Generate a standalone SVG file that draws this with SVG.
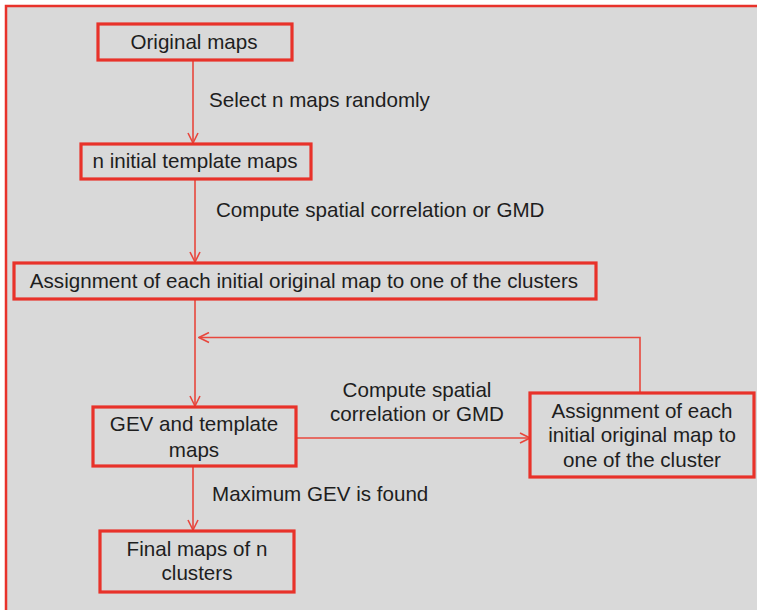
<svg xmlns="http://www.w3.org/2000/svg" width="757" height="610" viewBox="0 0 757 610">
<defs>
<style>
.frame{fill:#d9d9d9;stroke:#e8322a;stroke-width:2.5}
.box{fill:#d9d9d9;stroke:#e8322a;stroke-width:3.2}
.edge{fill:none;stroke:#e8473d;stroke-width:1.6}
text{font-family:"Liberation Sans",Arial,sans-serif;font-size:20.6px;fill:#1e1e1e}
.c{text-anchor:middle}
</style>
<marker id="ah" viewBox="0 0 12 12" refX="11" refY="6" markerWidth="12" markerHeight="12" markerUnits="userSpaceOnUse" orient="auto">
<path d="M1,1 L11,6 L1,11" fill="none" stroke="#e8473d" stroke-width="1.6"/>
</marker>
</defs>
<rect x="0" y="0" width="757" height="610" fill="#ffffff"/>
<rect class="frame" x="6" y="6" width="770" height="630"/>
<g id="connectors">
<line class="edge" x1="193" y1="60" x2="193" y2="143" marker-end="url(#ah)"/>
<line class="edge" x1="195" y1="179" x2="195" y2="262" marker-end="url(#ah)"/>
<line class="edge" x1="195" y1="298" x2="195" y2="406" marker-end="url(#ah)"/>
<polyline class="edge" points="640,392 640,337.5 199,337.5" marker-end="url(#ah)"/>
<line class="edge" x1="296" y1="438" x2="530" y2="438" marker-end="url(#ah)"/>
<line class="edge" x1="193" y1="466" x2="193" y2="530" marker-end="url(#ah)"/>
<text x="209" y="107">Select n maps randomly</text>
<text x="216" y="217">Compute spatial correlation or GMD</text>
<text class="c" x="417" y="397">Compute spatial</text>
<text class="c" x="417" y="421">correlation or GMD</text>
<text x="212" y="501">Maximum GEV is found</text>
</g>
<g id="original">
<rect class="box" x="98" y="24" width="194" height="36"/>
<text class="c" x="194" y="49">Original maps</text>
</g>
<g id="template">
<rect class="box" x="81" y="144" width="230" height="35"/>
<text class="c" x="195" y="168">n initial template maps</text>
</g>
<g id="assignment">
<rect class="box" x="14" y="263" width="582" height="36"/>
<text class="c" x="304" y="288">Assignment of each initial original map to one of the clusters</text>
</g>
<g id="gev">
<rect class="box" x="93" y="407" width="203" height="59"/>
<text class="c" x="194" y="431">GEV and template</text>
<text class="c" x="194" y="457">maps</text>
</g>
<g id="assign2">
<rect class="box" x="530" y="393" width="224" height="84"/>
<text class="c" x="642" y="418">Assignment of each</text>
<text class="c" x="642" y="442">initial original map to</text>
<text class="c" x="642" y="467">one of the cluster</text>
</g>
<g id="final">
<rect class="box" x="100" y="531" width="194" height="61"/>
<text class="c" x="197" y="556">Final maps of n</text>
<text class="c" x="197" y="580">clusters</text>
</g>
</svg>
